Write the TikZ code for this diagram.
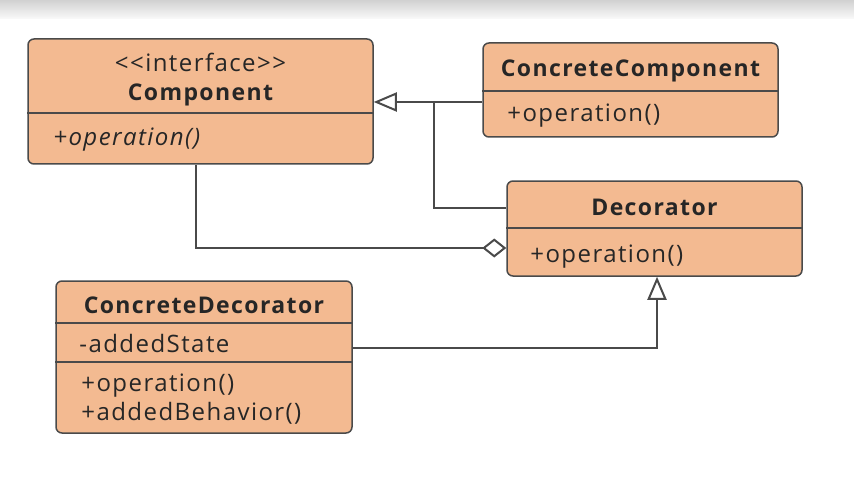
\documentclass[tikz,border=0pt]{standalone}
\usepackage{fontspec}
\setmainfont{Open Sans}[LetterSpace=6]
\usetikzlibrary{arrows.meta}
\definecolor{classfill}{HTML}{F3BA91}
\definecolor{classline}{HTML}{4A4A4A}
\tikzset{
  classbox/.style={draw=classline, line width=0.75pt, fill=classfill, rounded corners=3pt, inner sep=0pt},
  classtext/.style={inner sep=0pt, text height=8.5pt, text depth=2.5pt, font=\fontsize{12}{14}\selectfont, text=black!85},
  classtitle/.style={classtext, font=\fontsize{11.5}{14}\selectfont\bfseries},
  divider/.style={draw=classline, line width=0.75pt},
  umlline/.style={draw=classline, line width=1pt},
  inherit/.style={-{Triangle[length=11.5pt, width=9.5pt, fill=white]}},
  aggregate/.style={{Diamond[length=12pt, width=9.5pt, fill=white]}-},
}

\begin{document}
\begin{tikzpicture}[x=0.5pt, y=-0.5pt]
		%%%%% START %%%%%
		\useasboundingbox (0,0) rectangle (854,486);
		\shade[top color=black!18, bottom color=black!2] (0,0) rectangle (854,19);
		
		% Component
		\node (comp) [classbox, minimum width=172.5pt, minimum height=62.5pt] at (200.5,101.5) {};
		\draw[divider] (comp.west |- 0,113) -- (comp.east |- 0,113);
		\node (comp stereo) [classtext] at (200.5,66) {<{}<interface>{}>};
		\node (comp name) [classtitle] at (200.5,95) {Component};
		\node (comp op) [classtext, anchor=west] at (53,140) {\itshape +operation()};
		
		% ConcreteComponent
		\node (ccomp) [classbox, minimum width=147.5pt, minimum height=47pt] at (630.5,90) {};
		\draw[divider] (ccomp.west |- 0,91) -- (ccomp.east |- 0,91);
		\node (ccomp name) [classtitle] at (630.5,71) {ConcreteComponent};
		\node (ccomp op) [classtext, anchor=west] at (507,116) {+operation()};
		
		% Decorator
		\node (dec) [classbox, minimum width=147.5pt, minimum height=47.5pt] at (654.5,228.5) {};
		\draw[divider] (dec.west |- 0,228) -- (dec.east |- 0,228);
		\node (dec name) [classtitle] at (654.5,209) {Decorator};
		\node (dec op) [classtext, anchor=west] at (530,256) {+operation()};
		
		% ConcreteDecorator
		\node (cdec) [classbox, minimum width=148pt, minimum height=76pt] at (204,357) {};
		\draw[divider] (cdec.west |- 0,323) -- (cdec.east |- 0,323);
		\draw[divider] (cdec.west |- 0,362) -- (cdec.east |- 0,362);
		\node (cdec name) [classtitle] at (204,307) {ConcreteDecorator};
		\node (cdec state) [classtext, anchor=west] at (79,346) {-addedState};
		\node (cdec op) [classtext, anchor=west] at (81,385) {+operation()};
		\node (cdec behav) [classtext, anchor=west] at (81,414) {+addedBehavior()};
		
		% connectors
		\coordinate (join) at (434,102);
		\draw[umlline, inherit] (ccomp.west |- join) -- (comp.east |- join);
		\draw[umlline] (join) |- (dec.west |- 0,208);
		\draw[umlline, aggregate] (dec.west |- 0,248) -| (196,0 |- comp.south);
		\draw[umlline, inherit] (cdec.east |- 0,348) -| (657,0 |- dec.south);
		
		%%%%% END %%%%%
\end{tikzpicture}
\end{document}
